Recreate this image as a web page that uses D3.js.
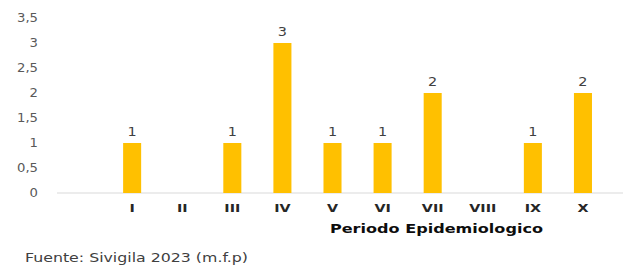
<!DOCTYPE html>
<html>
<head>
<meta charset="utf-8">
<script src="https://cdn.jsdelivr.net/npm/d3@7"></script>
<style>
  body { margin: 0; background: #fff; }
  text { font-family: 'DejaVu Sans', Verdana, sans-serif; }
</style>
</head>
<body>
<div id="chart"></div>
<script>
// Data
const periods = ['', 'I', 'II', 'III', 'IV', 'V', 'VI', 'VII', 'VIII', 'IX', 'X'];
const cases = [null, 1, 0, 1, 3, 1, 1, 2, 0, 1, 2];
const yTicks = [0, 0.5, 1, 1.5, 2, 2.5, 3, 3.5];
const xTitle = 'Periodo Epidemiologico';
const source = 'Fuente: Sivigila 2023 (m.f.p)';

const W = 623, H = 271;
const margin = { top: 18, right: 15, bottom: 78, left: 57 };
const innerW = W - margin.left - margin.right;
const innerH = H - margin.top - margin.bottom;

// the original picture is stretched sideways, so widen text a bit
function stretch(sel, k) {
    sel.each(function () {
        const len = this.getComputedTextLength();
        d3.select(this)
            .attr('textLength', len * k)
            .attr('lengthAdjust', 'spacingAndGlyphs');
    });
}

const svg = d3.select('#chart').append('svg')
    .attr('width', W)
    .attr('height', H);

const g = svg.append('g')
    .attr('transform', `translate(${margin.left},${margin.top})`);

const x = d3.scaleBand()
    .domain(periods.map((p, i) => i))
    .range([0, innerW])
    .paddingInner(0.64)
    .paddingOuter(0.32);

const y = d3.scaleLinear()
    .domain([0, 3.5])
    .range([innerH, 0]);

// Y axis labels (no line)
const yAxis = g.append('g')
    .call(d3.axisLeft(y).tickValues(yTicks).tickSize(0).tickPadding(19)
        .tickFormat(d => String(d).replace('.', ',')));
yAxis.select('.domain').remove();
yAxis.selectAll('text')
    .style('font-size', '12px')
    .style('fill', '#595959')
    .call(stretch, 1.1);

// Baseline (runs to the right edge of the picture)
g.append('line')
    .attr('x1', 0).attr('x2', W - margin.left)
    .attr('y1', y(0)).attr('y2', y(0))
    .attr('stroke', '#d9d9d9')
    .attr('stroke-width', 1);

// X axis labels
const xAxis = g.append('g')
    .attr('transform', `translate(0,${innerH})`)
    .call(d3.axisBottom(x).tickSize(0).tickPadding(11).tickFormat(i => periods[i]));
xAxis.select('.domain').remove();
xAxis.selectAll('text')
    .style('font-size', '11px')
    .style('font-weight', 'bold')
    .style('fill', '#262626')
    .call(stretch, 1.3);

// Bars
const barData = cases.map((v, i) => ({ i, v })).filter(d => d.v);
g.selectAll('.bar')
    .data(barData)
    .enter()
    .append('rect')
    .attr('class', 'bar')
    .attr('x', d => x(d.i))
    .attr('width', x.bandwidth())
    .attr('y', d => y(d.v))
    .attr('height', d => y(0) - y(d.v))
    .attr('fill', '#ffc000');

// Value labels
g.selectAll('.lbl')
    .data(barData)
    .enter()
    .append('text')
    .attr('class', 'lbl')
    .attr('x', d => x(d.i) + x.bandwidth() / 2)
    .attr('y', d => y(d.v) - 7)
    .attr('text-anchor', 'middle')
    .style('font-size', '12px')
    .style('fill', '#404040')
    .text(d => d.v)
    .call(stretch, 1.2);

// Axis title
g.append('text')
    .attr('x', x(periods.length - 1) + x.bandwidth() / 2 - 40)
    .attr('y', innerH + 40)
    .attr('text-anchor', 'end')
    .style('font-size', '13px')
    .style('font-weight', 'bold')
    .style('fill', '#0d0d0d')
    .text(xTitle)
    .attr('textLength', 213)
    .attr('lengthAdjust', 'spacingAndGlyphs');

// Source
svg.append('text')
    .attr('x', 25)
    .attr('y', 262)
    .style('font-size', '12px')
    .style('fill', '#404040')
    .text(source)
    .attr('textLength', 223)
    .attr('lengthAdjust', 'spacingAndGlyphs');
</script>
</body>
</html>
